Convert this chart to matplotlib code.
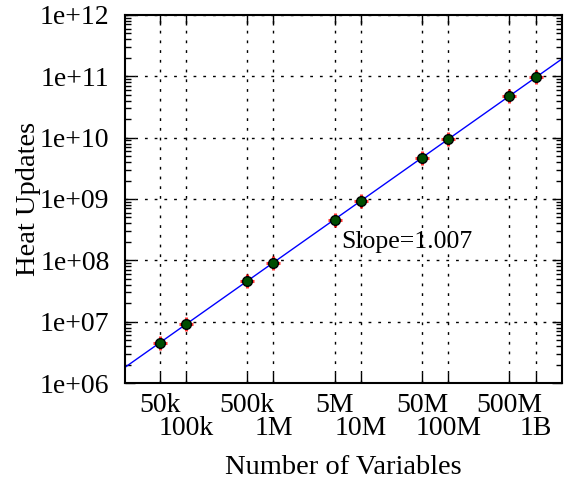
import numpy as np
import matplotlib
matplotlib.use("Agg")
import matplotlib.pyplot as plt
from matplotlib.ticker import FixedLocator, FixedFormatter, LogLocator, NullFormatter

plt.rcParams['font.family'] = ['Liberation Serif', 'DejaVu Serif']

# data
variables = [5e4, 1e5, 5e5, 1e6, 5e6, 1e7, 5e7, 1e8, 5e8, 1e9]
heat_updates = [4.5e6, 9.1e6, 4.6e7, 9.2e7, 4.6e8, 9.3e8, 4.7e9, 9.4e9, 4.8e10, 9.6e10]
xtick_labels = ["50k", "100k", "500k", "1M", "5M", "10M", "50M", "100M", "500M", "1B"]
slope_text = "Slope=1.007"
FS = 20

fig = plt.figure(figsize=(5.7, 4.83), dpi=100)
ax = fig.add_axes([0.219, 0.207, 0.767, 0.762])

ax.set_xscale("log")
ax.set_yscale("log")
ax.set_xlim(2e4, 2e9)
ax.set_ylim(1e6, 1e12)

# power-law fit in log-log
p = np.polyfit(np.log10(variables), np.log10(heat_updates), 1)
xf = np.logspace(np.log10(2e4), np.log10(2e9), 50)
ax.plot(xf, 10 ** np.polyval(p, np.log10(xf)), color="blue", lw=1, zorder=2)

ax.plot(variables, heat_updates, ls="none", marker="+", ms=10, mew=2.2,
        color="red", alpha=0.8, zorder=3)
ax.plot(variables, heat_updates, ls="none", marker="o", ms=7,
        mfc="#004d00", mec="black", mew=1, zorder=4)

ax.text(6.0e6, 1.6e8, slope_text, fontsize=18.5, va="baseline")

# x ticks: two rows of labels (major = upper row, minor = lower row)
ax.xaxis.set_major_locator(FixedLocator(variables[0::2]))
ax.xaxis.set_major_formatter(FixedFormatter(xtick_labels[0::2]))
ax.xaxis.set_minor_locator(FixedLocator(variables[1::2]))
ax.xaxis.set_minor_formatter(FixedFormatter(xtick_labels[1::2]))

ax.yaxis.set_major_locator(FixedLocator([10.0 ** k for k in range(6, 13)]))
ax.yaxis.set_major_formatter(FixedFormatter(["1e+0%d" % k if k < 10 else "1e+%d" % k
                                              for k in range(6, 13)]))
ax.yaxis.set_minor_locator(LogLocator(base=10, subs=np.arange(2, 10), numticks=20))
ax.yaxis.set_minor_formatter(NullFormatter())

ax.tick_params(which="both", direction="in", top=True, right=True, labelsize=FS,
               width=1, color="black")
ax.tick_params(axis="y", which="major", length=7, pad=11)
ax.tick_params(axis="y", which="minor", length=4)
ax.tick_params(axis="x", which="major", length=7, pad=7)
ax.tick_params(axis="x", which="minor", length=7, pad=24)

ax.grid(True, which="major", color="black", ls=(0, (2, 5)), lw=1)
ax.xaxis.grid(True, which="minor", color="black", ls=(0, (2, 5)), lw=1)
for s in ax.spines.values():
    s.set_linewidth(1.5)

ax.set_xlabel("Number of Variables", fontsize=FS + 0.5, labelpad=10)
ax.set_ylabel("Heat Updates", fontsize=FS + 0.5, labelpad=-1)

fig.savefig("out.png", dpi=100)
